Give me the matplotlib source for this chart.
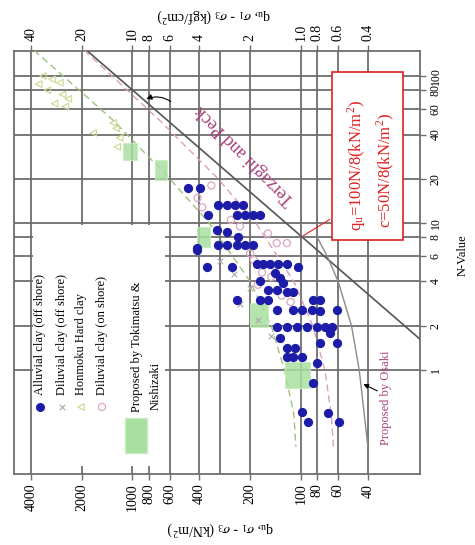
import numpy as np
import matplotlib
matplotlib.use('Agg')
import matplotlib.pyplot as plt
from matplotlib.patches import Rectangle

# axis ticks (qu in kN/m2 along x, N-value along y)
qu_ticks = [4000, 2000, 1000, 800, 600, 400, 200, 100, 80, 60, 40]
qu_labels = ['4000', '2000', '1000', '800', '600', '400', '200', '100', '80', '60', '40']
kgf_labels = ['40', '20', '10', '8', '6', '4', '2', '1.0', '0.8', '0.6', '0.4']
qu_grid = [4000, 2000, 1000, 800, 600, 400, 300, 200, 100, 80, 60, 40]
n_ticks = [1, 2, 4, 6, 8, 10, 20, 40, 60, 80, 100]
n_labels = ['1', '2', '4', '6', '8', '10', '20', '40', '60', '80', '100']

# Alluvial clay (off shore)
alluvial_qu = [468, 397, 356, 311, 275, 246, 221, 239, 215, 192, 175, 315, 275, 236,
               414, 311, 275, 239, 215, 192, 414, 361, 257, 182, 168, 153, 137, 121, 104,
               175, 143, 133, 128, 157, 139, 121, 111, 239, 175, 157, 139, 111, 99, 85, 77,
               86, 77, 61, 139, 121, 105, 92, 80, 72, 65, 133, 67, 77, 61, 121, 108,
               121, 111, 99, 80, 85, 99, 91, 69, 59]
alluvial_n = [17.3, 17.3, 11.3, 13.3, 13.3, 13.3, 13.3, 11.3, 11.3, 11.3, 11.3, 9.0, 8.7, 8.0,
              6.8, 7.1, 7.1, 7.1, 7.1, 7.1, 6.5, 5.0, 5.0, 5.3, 5.3, 5.3, 5.3, 5.3, 5.0,
              4.0, 4.6, 4.2, 3.9, 3.5, 3.5, 3.4, 3.4, 3.0, 3.0, 3.0, 2.56, 2.56, 2.56, 3.0, 3.0,
              2.56, 2.5, 2.56, 1.96, 1.96, 1.96, 1.96, 1.96, 1.96, 1.96, 1.65, 1.79, 1.53, 1.53, 1.41, 1.41,
              1.22, 1.22, 1.22, 1.12, 0.82, 0.52, 0.44, 0.51, 0.44]

# Diluvial clay (off shore)
dil_off_qu = [300, 250, 200, 230, 180, 150]
dil_off_n = [5.5, 4.5, 3.6, 2.8, 2.2, 1.7]

# Honmoku hard clay
honmoku_qu = [3400, 3000, 2700, 3200, 2600, 2400, 2900, 2500, 3600, 1300, 1190, 1710, 1230, 1250]
honmoku_n = [100, 95, 90, 80, 75, 70, 65, 62, 88, 48, 38, 41, 33, 44]

# Diluvial clay (on shore)
dil_on_qu = [340, 410, 385, 157, 139, 121, 200, 190, 170, 150, 180, 130, 115, 230, 260]
dil_on_n = [18, 14.8, 12.8, 8.5, 7.3, 7.3, 6.2, 5.6, 4.6, 4.3, 3.8, 3.2, 2.9, 9.5, 10.5]

# Tokimatsu & Nishizaki ranges: (qu_hi, qu_lo, n_lo, n_hi)
toki_boxes = [(1136, 939, 26.8, 35), (735, 624, 19.6, 26.8), (414, 347, 6.9, 9.4),
              (200, 157, 1.96, 2.86), (124, 88, 0.75, 1.13)]

# reference lines
terzaghi_qu = [1850, 19.6]
terzaghi_n = [148, 1.62]
osaki_qu = [40, 42, 45, 50, 60, 70, 80]
osaki_n = [0.3, 0.5, 1, 2, 4, 6, 8]
green_qu = [3850, 1300, 600, 350, 200, 150, 125, 110, 107]
green_n = [150, 50, 20, 10, 4, 2, 1, 0.5, 0.3]
pink_qu = [1935, 690, 310, 185, 110, 85, 72, 66, 64]
pink_n = [150, 50, 20, 10, 4, 2, 1, 0.5, 0.3]

serif = ['Liberation Serif', 'DejaVu Serif']
plt.rcParams['font.family'] = serif
plt.rcParams['mathtext.fontset'] = 'stix'

fig = plt.figure(figsize=(4.75, 5.45), dpi=100)
ax = fig.add_axes([14 / 475, 1 - 474 / 545, 406 / 475, 423 / 545])
ax.set_xscale('log')
ax.set_yscale('log')
ax.set_xlim(5050, 19.6)
ax.set_ylim(0.196, 148)

grid_c = '#6e6e6e'
for q in qu_grid:
    ax.axvline(q, color=grid_c, lw=1.3, zorder=1)
for n in n_ticks:
    ax.axhline(n, color=grid_c, lw=1.3, zorder=1)

ax.plot(terzaghi_qu, terzaghi_n, color='#555555', lw=1.2, zorder=3)
ax.plot(osaki_qu, osaki_n, color='#8a8a8a', lw=1.0, zorder=3)
ax.plot(green_qu, green_n, color='#9cc47a', lw=1.0, ls=(0, (5, 3)), zorder=3)
ax.plot(pink_qu, pink_n, color='#d9a0c0', lw=1.0, ls=(0, (5, 3)), zorder=3)

for qh, ql, nl, nh in toki_boxes:
    ax.fill([qh, ql, ql, qh], [nl, nl, nh, nh], color='#a8e0a0', alpha=0.85,
            ec='#c8ecc0', lw=0.8, zorder=3)

ax.scatter(honmoku_qu, honmoku_n, marker='<', s=22, facecolors='none',
           edgecolors='#c8d890', lw=0.8, zorder=4)
ax.scatter(dil_on_qu, dil_on_n, marker='o', s=26, facecolors='none',
           edgecolors='#d8a8c0', lw=0.9, zorder=4)
ax.scatter(dil_off_qu, dil_off_n, marker='x', s=16, color='#a8a8a8', lw=0.8, zorder=4)
ax.scatter(alluvial_qu, alluvial_n, marker='o', s=32, color='#1c1ca8', zorder=5)

# labels on the lines
mag = '#a8407a'
ax.text(215, 29, 'Terzaghi and Peck', rotation=135, color=mag, fontsize=13,
        ha='center', va='center', zorder=6)
ax.annotate('', xy=(857, 68.6), xytext=(574, 65.5),
            arrowprops=dict(arrowstyle='-|>', color='black', lw=0.8,
                            connectionstyle='arc3,rad=0.3', mutation_scale=8), zorder=6)
ax.text(31.3, 0.645, 'Proposed by Osaki', rotation=90, color=mag, fontsize=9,
        ha='center', va='center', zorder=6)
ax.annotate('', xy=(44, 0.816), xytext=(34, 0.708),
            arrowprops=dict(arrowstyle='-|>', color='black', lw=0.8, mutation_scale=7), zorder=6)

# legend drawn rotated like the rest of the figure
def fx(px):
    return (px - 14) / 406.0

def fy(py):
    return (474 - py) / 423.0

ax.add_patch(Rectangle((fx(33), fy(466)), fx(165) - fx(33), fy(225) - fy(466),
                       transform=ax.transAxes, facecolor='white', edgecolor='none', zorder=2))
leg_items = [('Alluvial clay (off shore)', 40), ('Diluvial clay (off shore)', 62),
             ('Honmoku Hard clay', 81), ('Diluvial clay (on shore)', 102)]
for label, px in leg_items:
    ax.text(fx(px), fy(395), label, rotation=90, fontsize=9, ha='center', va='bottom',
            transform=ax.transAxes, zorder=6)
ax.scatter([fx(40)], [fy(407)], s=30, color='#1c1ca8', transform=ax.transAxes, zorder=6)
ax.scatter([fx(62)], [fy(407)], s=16, marker='x', color='#a8a8a8', lw=0.8,
           transform=ax.transAxes, zorder=6)
ax.scatter([fx(81)], [fy(407)], s=22, marker='<', facecolors='none', edgecolors='#c8d890',
           lw=0.8, transform=ax.transAxes, zorder=6)
ax.scatter([fx(102)], [fy(407)], s=26, marker='o', facecolors='none', edgecolors='#d8a8c0',
           lw=0.9, transform=ax.transAxes, zorder=6)
ax.add_patch(Rectangle((fx(125), fy(453)), fx(147) - fx(125), fy(418) - fy(453),
                       transform=ax.transAxes, facecolor='#a8e0a0', edgecolor='#c8ecc0',
                       zorder=6))
ax.text(fx(137), fy(412), 'Proposed by Tokimatsu &', rotation=90, fontsize=9,
        ha='center', va='bottom', transform=ax.transAxes, zorder=6)
ax.text(fx(156), fy(410), 'Nishizaki', rotation=90, fontsize=9,
        ha='center', va='bottom', transform=ax.transAxes, zorder=6)

# red annotation box
ax.add_patch(Rectangle((fx(332), fy(240)), fx(403) - fx(332), fy(72) - fy(240),
                       transform=ax.transAxes, facecolor='white', edgecolor='#e02020',
                       lw=1.2, zorder=7))
ax.text(fx(357), fy(165), r'q$_\mathregular{u}$=100N/8(kN/m$^\mathregular{2}$)', rotation=90,
        color='#e02020', fontsize=12, ha='center', va='center', transform=ax.transAxes, zorder=8)
ax.text(fx(385), fy(170), r'c=50N/8(kN/m$^\mathregular{2}$)', rotation=90,
        color='#e02020', fontsize=12, ha='center', va='center', transform=ax.transAxes, zorder=8)
ax.annotate('', xy=(100, 8), xytext=(fx(332), fy(218)), textcoords='axes fraction',
            arrowprops=dict(arrowstyle='-', color='#e02020', lw=0.8), zorder=8)

# axes, ticks and labels
for s in ax.spines.values():
    s.set_color(grid_c)
    s.set_linewidth(1.3)
ax.minorticks_off()
ax.set_xticks(qu_ticks)
ax.set_xticklabels(qu_labels, rotation=90, fontsize=10)
ax.yaxis.tick_right()
ax.set_yticks(n_ticks)
ax.set_yticklabels(n_labels, rotation=90, fontsize=8.5, va='center')
ax.tick_params(direction='out', length=4, color=grid_c, width=1.0, pad=3)

top = ax.twiny()
top.set_xscale('log')
top.set_xlim(ax.get_xlim())
top.minorticks_off()
top.set_xticks(qu_ticks)
top.set_xticklabels(kgf_labels, rotation=90, fontsize=10)
top.tick_params(direction='out', length=4, color=grid_c, width=1.0, pad=3)
for s in top.spines.values():
    s.set_visible(False)

fig.text(220 / 475, 1 - 528 / 545, r'q$_\mathregular{u}$, $\sigma_\mathregular{1}$ - $\sigma_\mathregular{3}$ (kN/m$^\mathregular{2}$)',
         rotation=180, fontsize=10, ha='center', va='center')
fig.text(214 / 475, 1 - 15 / 545, r'q$_\mathregular{u}$, $\sigma_\mathregular{1}$ - $\sigma_\mathregular{3}$ (kgf/cm$^\mathregular{2}$)',
         rotation=180, fontsize=10, ha='center', va='center')
fig.text(463 / 475, 1 - 255 / 545, 'N-Value', rotation=90, fontsize=9,
         ha='center', va='center')

fig.savefig('out.png', dpi=100)
plt.close(fig)
